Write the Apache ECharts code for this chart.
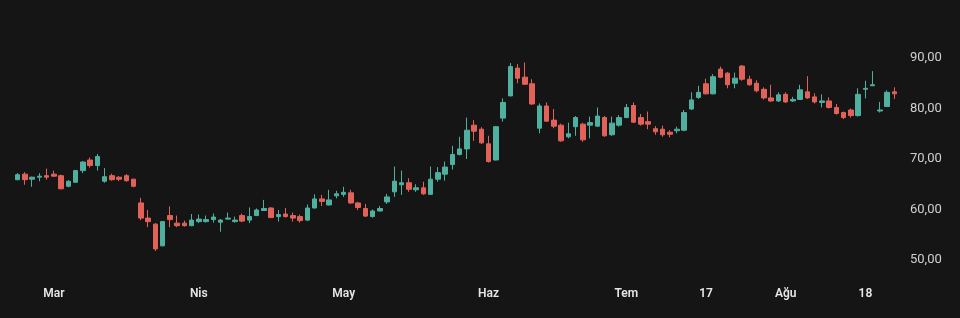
<!DOCTYPE html>
<html><head><meta charset="utf-8">
<script src="https://cdn.jsdelivr.net/npm/echarts@6/dist/echarts.min.js"></script>
<style>html,body{margin:0;padding:0;background:#151515}#c{width:960px;height:318px}</style>
</head><body><div id="c"></div>
<script>
var opens = [65.9,67.0,66.0,66.4,66.7,67.0,66.7,64.6,65.4,67.7,69.8,68.7,65.6,66.7,66.4,66.7,66.0,61.3,58.3,57.1,52.8,58.8,57.3,57.3,56.8,57.6,57.6,58.0,57.5,58.1,57.6,58.8,57.9,58.8,59.8,60.3,58.6,59.1,58.8,58.6,57.9,60.3,62.1,60.9,62.7,63.0,63.3,61.3,60.2,58.6,59.7,61.5,63.5,64.9,65.3,63.9,64.3,63.0,66.0,67.0,68.9,70.9,72.0,76.7,75.9,73.0,69.8,78.1,82.5,88.0,86.2,84.9,76.1,80.5,77.7,76.7,74.4,76.4,76.9,76.7,76.5,78.2,74.8,76.7,78.2,80.6,78.2,77.4,76.0,75.9,75.3,75.6,75.7,79.9,82.2,84.9,82.9,87.8,87.0,85.0,88.4,85.8,85.0,83.8,82.1,81.5,82.8,81.5,81.8,83.3,82.3,81.2,81.5,80.2,79.2,79.7,78.6,83.8,84.5,79.5,80.4,83.3];
var closes = [66.9,65.9,66.4,66.6,66.4,66.6,64.1,65.6,67.7,69.4,68.7,70.5,66.5,65.9,66.0,65.7,64.6,58.3,57.6,52.2,57.6,58.0,56.8,56.8,57.9,58.1,58.0,58.5,57.9,58.3,57.9,57.7,58.6,59.9,60.2,58.4,59.0,58.6,58.3,57.8,60.3,62.1,61.6,61.9,63.1,63.4,61.3,60.4,58.7,59.7,60.2,62.5,65.6,65.3,64.0,64.3,63.1,66.0,67.3,68.4,70.9,72.0,75.7,75.5,73.2,69.5,76.4,81.2,88.3,86.0,84.8,80.9,80.5,77.5,76.5,73.6,75.0,78.2,73.8,77.2,78.5,74.6,77.1,78.2,80.2,77.3,76.9,76.9,75.4,74.8,74.9,75.9,79.2,81.7,83.2,82.9,86.3,86.2,84.7,86.0,85.8,84.7,83.5,82.1,81.5,82.7,81.3,81.8,83.7,82.1,81.3,81.5,80.2,79.0,78.2,78.6,82.8,84.0,84.7,79.7,83.2,82.9];
var highs = [67.2,67.4,66.5,67.2,68.1,67.7,66.9,65.8,67.8,69.6,70.3,71.0,68.2,67.1,66.6,67.0,66.1,62.3,59.9,57.3,57.7,60.6,58.8,57.8,59.1,59.0,58.8,59.2,58.1,59.4,58.6,59.2,60.4,60.2,61.9,60.5,59.9,60.3,59.4,59.0,61.0,63.0,62.9,63.9,63.7,64.5,63.9,61.5,61.1,60.0,60.7,63.1,68.5,67.7,66.2,65.0,65.5,68.5,68.4,69.5,72.6,74.4,78.2,77.7,76.3,74.6,76.5,82.0,89.0,88.8,89.1,85.8,81.0,81.2,79.9,77.0,77.2,78.5,77.2,78.4,80.2,78.5,78.4,78.7,80.9,81.2,78.9,79.4,76.5,76.6,75.7,76.4,79.7,83.2,84.5,85.9,86.8,88.3,87.2,87.1,88.6,86.5,85.6,84.2,84.7,83.2,83.2,82.3,84.7,86.4,83.0,82.8,82.2,80.9,79.4,80.0,84.0,85.5,87.4,81.3,83.6,84.2];
var lows = [65.8,64.9,64.5,65.6,65.9,66.5,64.0,64.4,65.3,67.2,68.3,67.7,65.3,65.7,65.6,65.5,64.4,57.9,56.5,51.8,52.7,56.5,56.5,56.6,56.7,57.3,57.4,57.4,55.6,58.0,57.4,57.5,57.3,58.7,59.7,58.3,57.6,58.4,57.6,57.4,57.7,60.2,60.7,60.8,62.2,62.5,61.1,59.9,58.5,58.4,59.6,61.1,62.5,62.9,63.5,63.5,62.9,62.9,65.5,65.7,67.9,70.7,70.0,73.6,73.0,69.3,69.7,77.4,82.4,85.0,84.7,80.7,75.1,77.4,76.1,73.4,74.1,74.6,73.4,74.1,76.4,74.4,74.6,76.4,78.1,77.1,76.6,75.9,74.8,74.4,74.3,75.1,75.5,79.7,81.9,82.8,82.8,86.0,84.0,84.0,85.5,84.5,83.2,81.8,81.3,81.3,81.1,81.3,81.7,81.9,81.0,80.2,80.0,78.8,77.9,78.2,78.4,82.0,84.5,79.2,80.3,81.9];
var tickIndex = [5, 25, 45, 65, 84, 95, 106, 117];
var tickText = ['Mar', 'Nis', 'May', 'Haz', 'Tem', '17', 'Ağu', '18'];
var yTicks = [50, 60, 70, 80, 90];

var categories = opens.map(function (_, i) { return String(i); });
var ohlc = opens.map(function (o, i) { return [o, closes[i], lows[i], highs[i]]; });

var chart = echarts.init(document.getElementById('c'), null, {renderer: 'canvas'});
chart.setOption({
  backgroundColor: '#151515',
  animation: false,
  grid: {left: 14, width: 884, top: 58, height: 202},
  xAxis: {
    type: 'category',
    data: categories,
    boundaryGap: true,
    axisLine: {show: false},
    axisTick: {show: false},
    splitLine: {show: false},
    axisLabel: {
      margin: 28,
      color: '#e6e6e6',
      fontSize: 12,
      fontWeight: 600,
      fontFamily: 'Roboto, sans-serif',
      interval: function (idx) { return tickIndex.indexOf(idx) >= 0; },
      formatter: function (v, idx) {
        var k = tickIndex.indexOf(idx);
        return k >= 0 ? tickText[k] : '';
      }
    }
  },
  yAxis: {
    type: 'value',
    position: 'right',
    min: yTicks[0],
    max: yTicks[yTicks.length - 1],
    interval: 10,
    axisLine: {show: false},
    axisTick: {show: false},
    splitLine: {show: false},
    axisLabel: {
      margin: 12,
      color: '#cfcfcf',
      fontSize: 13,
      fontFamily: 'Roboto, sans-serif',
      formatter: function (v) { return v.toFixed(2).replace('.', ','); }
    }
  },
  series: [{
    type: 'candlestick',
    data: ohlc,
    barWidth: 5,
    itemStyle: {
      color: '#4fb09f',
      color0: '#e2625a',
      borderColor: '#4fb09f',
      borderColor0: '#e2625a',
      borderWidth: 1
    }
  }]
});
</script></body></html>
